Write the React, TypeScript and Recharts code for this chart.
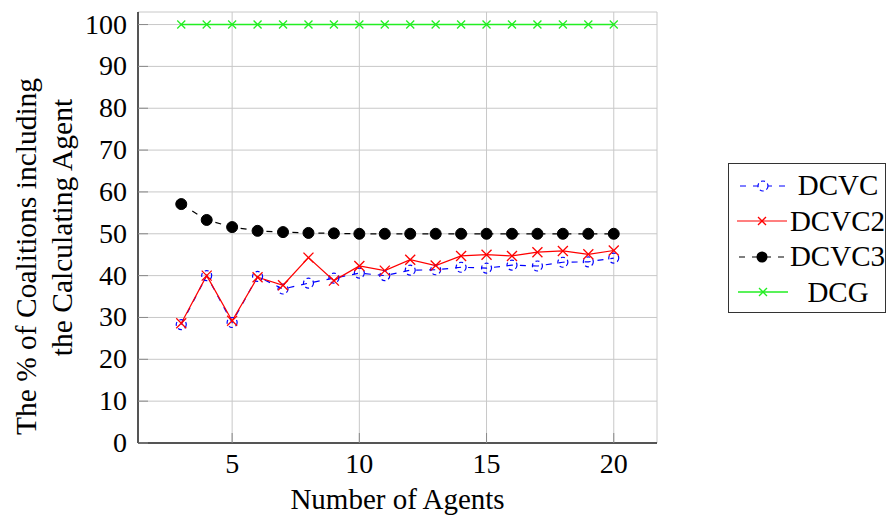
import React from 'react';
import { LineChart, Line, XAxis, YAxis, CartesianGrid, Label } from 'recharts';

const agents = [3, 4, 5, 6, 7, 8, 9, 10, 11, 12, 13, 14, 15, 16, 17, 18, 19, 20];
const dcvc = [28.3, 40.0, 28.8, 39.8, 36.8, 38.2, 39.4, 40.6, 40.0, 41.3, 41.4, 42.0, 41.8, 42.5, 42.3, 43.2, 43.3, 44.2];
const dcvc2 = [28.6, 40.0, 29.2, 39.6, 37.7, 44.3, 38.8, 42.3, 41.2, 43.8, 42.4, 44.7, 45.0, 44.7, 45.6, 45.9, 45.1, 46.0];
const dcvc3 = [57.1, 53.3, 51.6, 50.7, 50.4, 50.2, 50.1, 50.0, 50.0, 50.0, 50.0, 50.0, 50.0, 50.0, 50.0, 50.0, 50.0, 50.0];
const dcg = [100, 100, 100, 100, 100, 100, 100, 100, 100, 100, 100, 100, 100, 100, 100, 100, 100, 100];
const xTicks = [5, 10, 15, 20];
const yTicks = [0, 10, 20, 30, 40, 50, 60, 70, 80, 90, 100];
const seriesNames = ['DCVC', 'DCVC2', 'DCVC3', 'DCG'];

const data = agents.map((a, i) => ({
  agents: a,
  DCVC: dcvc[i],
  DCVC2: dcvc2[i],
  DCVC3: dcvc3[i],
  DCG: dcg[i],
}));

const FONT = 'Liberation Serif';
const BLUE = '#0000ff';
const RED = '#ff0000';
const BLACK = '#000000';
const GREEN = '#22ee22';
const FRAME = '#262626';
const TICK = '#8a8a8a';

const crossDot = (color: string, r: number) => (props: any) => {
  const { cx, cy, index } = props;
  if (cx == null || cy == null) return <g key={'c' + index} />;
  return (
    <g key={'c' + color + index}>
      <line x1={cx - r} y1={cy - r} x2={cx + r} y2={cy + r} stroke={color} strokeWidth={1.3} />
      <line x1={cx - r} y1={cy + r} x2={cx + r} y2={cy - r} stroke={color} strokeWidth={1.3} />
    </g>
  );
};

const dashedCircleDot = (props: any) => {
  const { cx, cy, index } = props;
  if (cx == null || cy == null) return <g key={'b' + index} />;
  return (
    <circle key={'b' + index} cx={cx} cy={cy} r={5} fill="none" stroke={BLUE} strokeWidth={1.2} strokeDasharray="4 3" />
  );
};

const filledDot = (props: any) => {
  const { cx, cy, index } = props;
  if (cx == null || cy == null) return <g key={'k' + index} />;
  return <circle key={'k' + index} cx={cx} cy={cy} r={5.5} fill={BLACK} stroke={BLACK} />;
};

const XTick = (props: any) => {
  const { x, y, payload } = props;
  return (
    <text x={x} y={y + 30} textAnchor="middle" fontFamily={FONT} style={{ fontFamily: FONT }} fontSize={28} fill="#000">
      {payload.value}
    </text>
  );
};

const YTick = (props: any) => {
  const { x, y, payload } = props;
  return (
    <text x={x} y={y + 9} textAnchor="end" fontFamily={FONT} style={{ fontFamily: FONT }} fontSize={28} fill="#000">
      {payload.value}
    </text>
  );
};

const NoTick = () => <g />;

const YLabel = (props: any) => {
  const vb = props.viewBox || { x: 0, y: 12, width: 138, height: 431 };
  const cy = vb.y + vb.height / 2;
  return (
    <g>
      <text
        x={vb.x + 36}
        y={cy + 29}
        transform={`rotate(-90 ${vb.x + 36} ${cy + 29})`}
        textAnchor="middle"
        fontFamily={FONT}
        style={{ fontFamily: FONT }}
        fontSize={29.5}
        fill="#000"
      >
        The % of Coalitions including
      </text>
      <text
        x={vb.x + 72}
        y={cy}
        transform={`rotate(-90 ${vb.x + 72} ${cy})`}
        textAnchor="middle"
        fontFamily={FONT}
        style={{ fontFamily: FONT }}
        fontSize={29.5}
        fill="#000"
      >
        the Calculating Agent
      </text>
    </g>
  );
};

const XLabel = (props: any) => {
  const vb = props.viewBox || { x: 138, y: 443, width: 519, height: 73 };
  return (
    <text
      x={vb.x + vb.width / 2}
      y={vb.y + 66}
      textAnchor="middle"
      fontFamily={FONT}
      style={{ fontFamily: FONT }}
      fontSize={29}
      fill="#000"
    >
      Number of Agents
    </text>
  );
};

const LegendIcon = ({ name }: { name: string }) => {
  const w = 50;
  const h = 20;
  const cx = w / 2;
  const cy = h / 2;
  if (name === 'DCVC') {
    return (
      <svg width={w} height={h}>
        <line x1={2} y1={cy} x2={w - 2} y2={cy} stroke={BLUE} strokeWidth={1.2} strokeDasharray="6 7" />
        <circle cx={cx} cy={cy} r={5} fill="white" stroke={BLUE} strokeWidth={1.2} strokeDasharray="4 3" />
      </svg>
    );
  }
  if (name === 'DCVC2') {
    return (
      <svg width={w} height={h}>
        <line x1={0} y1={cy} x2={w} y2={cy} stroke={RED} strokeWidth={1.2} />
        <line x1={cx - 4} y1={cy - 4} x2={cx + 4} y2={cy + 4} stroke={RED} strokeWidth={1.3} />
        <line x1={cx - 4} y1={cy + 4} x2={cx + 4} y2={cy - 4} stroke={RED} strokeWidth={1.3} />
      </svg>
    );
  }
  if (name === 'DCVC3') {
    return (
      <svg width={w} height={h}>
        <line x1={2} y1={cy} x2={w - 2} y2={cy} stroke={BLACK} strokeWidth={1.2} strokeDasharray="6 7" />
        <circle cx={cx} cy={cy} r={5.5} fill={BLACK} />
      </svg>
    );
  }
  return (
    <svg width={w} height={h}>
      <line x1={0} y1={cy} x2={w} y2={cy} stroke={GREEN} strokeWidth={1.5} />
      <line x1={cx - 4} y1={cy - 4} x2={cx + 4} y2={cy + 4} stroke={GREEN} strokeWidth={1.3} />
      <line x1={cx - 4} y1={cy + 4} x2={cx + 4} y2={cy - 4} stroke={GREEN} strokeWidth={1.3} />
    </svg>
  );
};

export default function App() {
  return (
    <div style={{ position: 'absolute', left: 0, top: 0, width: 887, height: 516, background: '#fff', fontFamily: FONT }}>
      <LineChart width={887} height={516} data={data} margin={{ top: 12, right: 230, bottom: 0, left: 0 }}>
        <CartesianGrid stroke="#c8c8c8" strokeWidth={1} />
        <XAxis
          dataKey="agents"
          type="number"
          domain={[1.3, 21.7]}
          ticks={xTicks}
          height={73}
          tickLine={{ stroke: TICK, strokeWidth: 1 }}
          tickSize={-10}
          tickMargin={10}
          axisLine={{ stroke: FRAME, strokeWidth: 1.5 }}
          tick={<XTick />}
        >
          <Label content={<XLabel />} />
        </XAxis>
        <XAxis
          xAxisId="top"
          orientation="top"
          type="number"
          dataKey="agents"
          domain={[1.3, 21.7]}
          ticks={xTicks}
          height={0}
          tick={<NoTick />}
          tickLine={{ stroke: TICK, strokeWidth: 1 }}
          tickSize={-10}
          axisLine={{ stroke: FRAME, strokeWidth: 1.5 }}
        />
        <YAxis
          type="number"
          domain={[0, 103]}
          ticks={yTicks}
          width={138}
          tickLine={{ stroke: TICK, strokeWidth: 1 }}
          tickSize={-10}
          tickMargin={21}
          axisLine={{ stroke: FRAME, strokeWidth: 1.5 }}
          tick={<YTick />}
        >
          <Label content={<YLabel />} />
        </YAxis>
        <YAxis
          yAxisId="right"
          orientation="right"
          type="number"
          domain={[0, 103]}
          ticks={yTicks}
          width={0}
          tick={<NoTick />}
          tickLine={{ stroke: TICK, strokeWidth: 1 }}
          tickSize={-10}
          axisLine={{ stroke: FRAME, strokeWidth: 1.5 }}
        />
        <Line
          dataKey="DCVC"
          name={seriesNames[0]}
          stroke={BLUE}
          strokeWidth={1.2}
          strokeDasharray="6 7"
          dot={dashedCircleDot}
          isAnimationActive={false}
        />
        <Line
          dataKey="DCVC2"
          name={seriesNames[1]}
          stroke={RED}
          strokeWidth={1.2}
          dot={crossDot(RED, 5)}
          isAnimationActive={false}
        />
        <Line
          dataKey="DCVC3"
          name={seriesNames[2]}
          stroke={BLACK}
          strokeWidth={1.2}
          strokeDasharray="6 7"
          dot={filledDot}
          isAnimationActive={false}
        />
        <Line
          dataKey="DCG"
          name={seriesNames[3]}
          stroke={GREEN}
          strokeWidth={1.5}
          dot={crossDot(GREEN, 4)}
          isAnimationActive={false}
        />
      </LineChart>
      <div
        style={{
          position: 'absolute',
          left: 728,
          top: 163,
          width: 158,
          height: 150,
          boxSizing: 'border-box',
          border: '1.5px solid #333',
          background: '#fff',
          fontFamily: FONT,
          fontSize: 29,
          color: '#000',
        }}
      >
        {seriesNames.map((n, i) => (
          <div
            key={n}
            style={{
              position: 'absolute',
              left: 0,
              top: 4 + i * 35.5,
              width: 156,
              height: 35,
              display: 'flex',
              alignItems: 'center',
            }}
          >
            <div style={{ width: 56, display: 'flex', justifyContent: 'center', paddingLeft: 6 }}>
              <LegendIcon name={n} />
            </div>
            <div style={{ flex: 1, textAlign: 'center', lineHeight: '35px' }}>{n}</div>
          </div>
        ))}
      </div>
    </div>
  );
}
